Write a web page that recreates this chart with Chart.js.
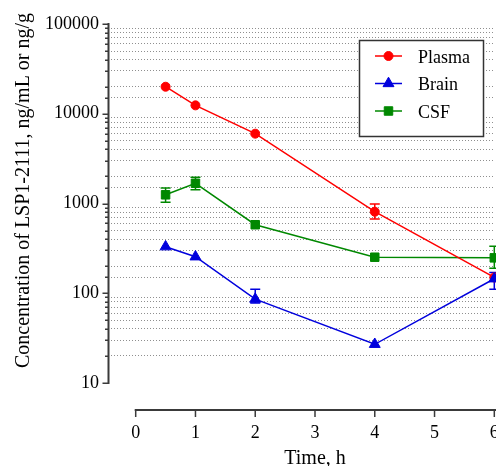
<!DOCTYPE html>
<html><head><meta charset="utf-8">
<script src="https://cdn.jsdelivr.net/npm/chart.js@4/dist/chart.umd.min.js"></script>
<style>html,body{margin:0;padding:0;overflow:hidden;background:#fff;width:496px;height:466px}canvas{display:block}</style>
</head><body>
<canvas id="c" width="520" height="466"></canvas>
<script>
// ---- data ----
const times = [0.5, 1, 2, 4, 6];
const xTicks = [0, 1, 2, 3, 4, 5, 6];
const plasma = [20000, 12400, 6000, 810, 150];
const plasmaErrUp = [0, 0, 0, 175, 0];
const plasmaErrDown = [0, 0, 0, 140, 0];
const brain = [330, 255, 86, 27, 145];
const brainErrUp = [0, 0, 25, 0, 25];
const brainErrDown = [0, 0, 8, 0, 34];
const csf = [1250, 1680, 580, 252, 248];
const csfErrUp = [240, 280, 0, 0, 86];
const csfErrDown = [220, 255, 0, 0, 58];
const seriesNames = ['Plasma', 'Brain', 'CSF'];
const xTitle = 'Time, h';
const yTitle = 'Concentration of LSP1-2111, ng/mL or ng/g';

const SERIF = "'Liberation Serif','Times New Roman',serif";
const AXIS = '#3a3a3a';
const isMajor = v => { const l = Math.log10(v); return Math.abs(l - Math.round(l)) < 1e-6; };

function makeSet(name, vals, up, down, color, style, r, order) {
  return {
    label: name,
    data: times.map((t, i) => ({x: t, y: vals[i]})),
    errUp: up, errDown: down, order: order,
    borderColor: color, backgroundColor: color,
    pointBackgroundColor: color, pointBorderColor: color,
    pointStyle: style, pointRadius: r, pointBorderWidth: 1,
    borderWidth: 1.5, tension: 0, clip: false, fill: false
  };
}

const decor = {
  id: 'decor',
  beforeDatasetsDraw(chart) {
    const ctx = chart.ctx, xs = chart.scales.x, ys = chart.scales.y;
    chart.data.datasets.forEach(ds => {
      ctx.save();
      ctx.strokeStyle = ds.borderColor; ctx.lineWidth = 1.5;
      ds.data.forEach((p, i) => {
        const up = ds.errUp[i], dn = ds.errDown[i];
        if (!up && !dn) return;
        const x = xs.getPixelForValue(p.x);
        const yT = ys.getPixelForValue(p.y + up), yB = ys.getPixelForValue(p.y - dn);
        ctx.beginPath();
        ctx.moveTo(x, yT); ctx.lineTo(x, yB);
        ctx.moveTo(x - 5, yT); ctx.lineTo(x + 5, yT);
        ctx.moveTo(x - 5, yB); ctx.lineTo(x + 5, yB);
        ctx.stroke();
      });
      ctx.restore();
    });
  },
  afterDraw(chart) {
    const ctx = chart.ctx, xs = chart.scales.x, ys = chart.scales.y, ca = chart.chartArea;
    ctx.save();
    // y axis line + ticks
    const ax = ca.left + 0.5;
    ctx.strokeStyle = AXIS; ctx.lineWidth = 2;
    ctx.beginPath();
    ctx.moveTo(ax, ys.getPixelForValue(ys.max) - 1);
    ctx.lineTo(ax, ys.getPixelForValue(ys.min) + 1);
    ctx.stroke();
    ctx.lineWidth = 1.5;
    ys.ticks.forEach(t => {
      const y = Math.round(ys.getPixelForValue(t.value)) + 0.25;
      const len = isMajor(t.value) ? 6 : 3.5;
      ctx.beginPath(); ctx.moveTo(ax - len, y); ctx.lineTo(ax, y); ctx.stroke();
    });
    // x axis line + ticks (offset below plot)
    const ay = 410;
    const x0 = xs.getPixelForValue(xTicks[0]), x1 = xs.getPixelForValue(xTicks[xTicks.length - 1]);
    ctx.lineWidth = 2;
    ctx.beginPath(); ctx.moveTo(x0 - 1, ay); ctx.lineTo(x1 + 4, ay); ctx.stroke();
    ctx.lineWidth = 1.5;
    xTicks.forEach(v => {
      const x = xs.getPixelForValue(v);
      ctx.beginPath(); ctx.moveTo(x, ay); ctx.lineTo(x, ay + 7); ctx.stroke();
    });
    // titles
    ctx.fillStyle = '#000';
    ctx.font = '20px ' + SERIF;
    ctx.textAlign = 'center'; ctx.textBaseline = 'alphabetic';
    ctx.fillText(xTitle, (x0 + x1) / 2, 464);
    ctx.save();
    ctx.translate(28.5, 190.5); ctx.rotate(-Math.PI / 2);
    ctx.fillText(yTitle, 0, 0);
    ctx.restore();
    // legend
    const bx = 359.5, by = 40.5, bw = 124, bh = 96;
    ctx.fillStyle = '#fff'; ctx.fillRect(bx, by, bw, bh);
    ctx.strokeStyle = '#333'; ctx.lineWidth = 1.5; ctx.strokeRect(bx, by, bw, bh);
    const rows = [56, 83.5, 111];
    chart.data.datasets.forEach((ds, i) => {
      const y = rows[i];
      ctx.strokeStyle = ds.borderColor; ctx.lineWidth = 1.5;
      ctx.beginPath(); ctx.moveTo(375, y); ctx.lineTo(402, y); ctx.stroke();
      ctx.fillStyle = ds.backgroundColor; ctx.lineWidth = 1;
      Chart.helpers.drawPoint(ctx, {pointStyle: ds.pointStyle, radius: ds.pointRadius, rotation: 0, borderWidth: 1}, 388.5, y);
      ctx.fillStyle = '#000';
      ctx.font = '18px ' + SERIF; ctx.textAlign = 'left'; ctx.textBaseline = 'alphabetic';
      ctx.fillText(ds.label, 418, y + 6.5);
    });
    ctx.restore();
  }
};

new Chart(document.getElementById('c'), {
  type: 'line',
  data: {
    datasets: [
      makeSet(seriesNames[0], plasma, plasmaErrUp, plasmaErrDown, '#ff0000', 'circle', 4.5, 1),
      makeSet(seriesNames[1], brain, brainErrUp, brainErrDown, '#0000dd', 'triangle', 6.3, 0),
      makeSet(seriesNames[2], csf, csfErrUp, csfErrDown, '#008800', 'rect', 6, 2)
    ]
  },
  options: {
    responsive: false, animation: false,
    layout: {padding: {top: 24, right: 25.7, left: 0, bottom: 0}},
    plugins: {legend: {display: false}, tooltip: {enabled: false}},
    scales: {
      x: {
        type: 'linear', min: -0.4635, max: 6,
        afterBuildTicks: s => { s.ticks = xTicks.map(v => ({value: v})); },
        afterFit: s => { s.height = 83; s.paddingLeft = 0; s.paddingRight = 0; },
        grid: {display: false}, border: {display: false},
        ticks: {font: {family: SERIF, size: 18}, color: '#000', padding: 31, maxRotation: 0, autoSkip: false, callback: v => String(v)}
      },
      y: {
        type: 'logarithmic', min: 10, max: 100000,
        afterFit: s => { s.width = 108; },
        grid: {drawTicks: false, lineWidth: 1, color: c => (c.tick && isMajor(c.tick.value)) ? 'rgba(0,0,0,0)' : '#8f8f8f'},
        border: {display: false, dash: [1, 2]},
        ticks: {autoSkip: false, padding: 9, font: {family: SERIF, size: 18}, color: '#000', callback: v => isMajor(v) ? String(v) : ''}
      }
    }
  },
  plugins: [decor]
});
</script>
</body></html>
